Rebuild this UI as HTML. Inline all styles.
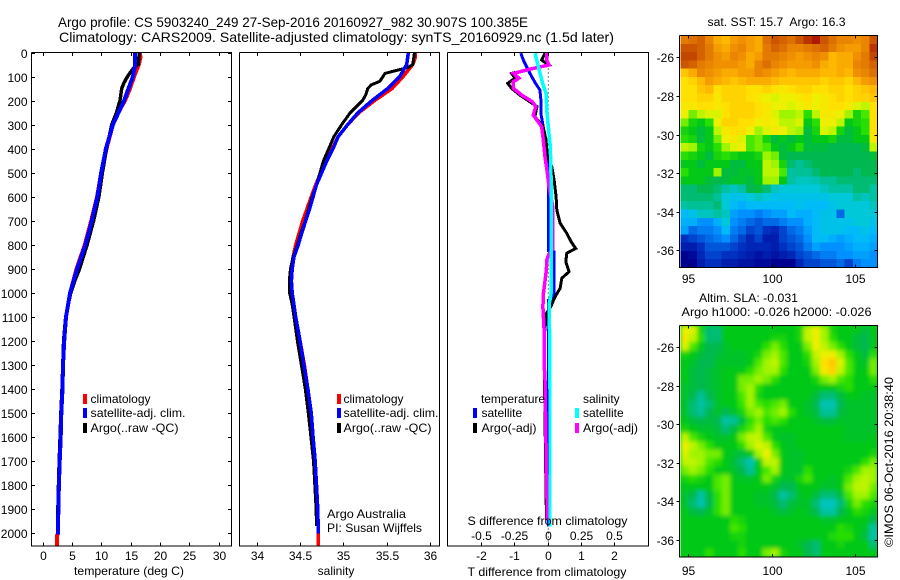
<!DOCTYPE html>
<html><head><meta charset="utf-8"><title>Argo profile</title>
<style>
html,body{margin:0;padding:0;background:#fff}
svg{display:block}
text{font-family:"Liberation Sans",sans-serif;font-size:12px;fill:#000}
</style></head>
<body>
<svg id="fig" xmlns="http://www.w3.org/2000/svg" width="900" height="580" viewBox="0 0 900 580">
<defs>
<filter id="slaBlur" x="-10%" y="-10%" width="120%" height="120%"><feGaussianBlur stdDeviation="2"/></filter>
<clipPath id="slaClip"><rect x="680.5" y="325.5" width="197" height="231.5"/></clipPath>
</defs>
<rect width="900" height="580" fill="#fff"/>
<text x="58" y="27" style="font-size:14px" textLength="470" lengthAdjust="spacingAndGlyphs">Argo profile: CS 5903240_249 27-Sep-2016 20160927_982 30.907S 100.385E</text>
<text x="59" y="42" style="font-size:14px" textLength="555" lengthAdjust="spacingAndGlyphs">Climatology: CARS2009. Satellite-adjusted climatology: synTS_20160929.nc (1.5d later)</text>
<g id="heatLayer">
  <g id="sstLayer"></g>
  <g clip-path="url(#slaClip)">
    <rect x="680.5" y="325.5" width="197" height="231.5" fill="#04c818"/>
    <g id="slaLayer" filter="url(#slaBlur)"></g>
  </g>
</g>
<g id="seriesLayer"></g>
<g id="axisLayer"></g>

<text x="129" y="575" text-anchor="middle" textLength="110" lengthAdjust="spacingAndGlyphs">temperature (deg C)</text>
<text x="336" y="575" text-anchor="middle">salinity</text>
<text x="547" y="576" text-anchor="middle" textLength="159" lengthAdjust="spacingAndGlyphs">T difference from climatology</text>
<text x="547.5" y="525" text-anchor="middle" textLength="160" lengthAdjust="spacingAndGlyphs">S difference from climatology</text>

<g shape-rendering="crispEdges">
<rect x="83" y="394" width="4" height="10" fill="#f00"/>
<rect x="83" y="408" width="4" height="10" fill="#00f"/>
<rect x="83" y="423" width="4" height="10" fill="#000"/>
</g>
<text x="90.5" y="403">climatology</text>
<text x="90.5" y="417" textLength="95" lengthAdjust="spacingAndGlyphs">satellite-adj. clim.</text>
<text x="90.5" y="432" textLength="88" lengthAdjust="spacingAndGlyphs">Argo(..raw -QC)</text>

<g shape-rendering="crispEdges">
<rect x="337" y="394" width="4" height="10" fill="#f00"/>
<rect x="337" y="408" width="4" height="10" fill="#00f"/>
<rect x="337" y="423" width="4" height="10" fill="#000"/>
</g>
<text x="343.5" y="403">climatology</text>
<text x="343.5" y="417" textLength="95" lengthAdjust="spacingAndGlyphs">satellite-adj. clim.</text>
<text x="343.5" y="432" textLength="88" lengthAdjust="spacingAndGlyphs">Argo(..raw -QC)</text>
<text x="327" y="518" textLength="79" lengthAdjust="spacingAndGlyphs">Argo Australia</text>
<text x="327" y="532" textLength="95" lengthAdjust="spacingAndGlyphs">PI: Susan Wijffels</text>

<g shape-rendering="crispEdges">
<rect x="473" y="408" width="4" height="10" fill="#00f"/>
<rect x="473" y="423" width="4" height="10" fill="#000"/>
<rect x="575" y="408" width="4" height="10" fill="#0ff"/>
<rect x="575" y="423" width="4" height="10" fill="#f0f"/>
</g>
<text x="481" y="403" textLength="64" lengthAdjust="spacingAndGlyphs">temperature</text>
<text x="481.5" y="417">satellite</text>
<text x="481.5" y="432" textLength="55" lengthAdjust="spacingAndGlyphs">Argo(-adj)</text>
<text x="583" y="403">salinity</text>
<text x="583" y="417">satellite</text>
<text x="583" y="432" textLength="55" lengthAdjust="spacingAndGlyphs">Argo(-adj)</text>

<text x="707.5" y="26" style="font-size:11.5px" textLength="138" lengthAdjust="spacingAndGlyphs" xml:space="preserve">sat. SST: 15.7  Argo: 16.3</text>
<text x="699" y="302" textLength="99" lengthAdjust="spacingAndGlyphs">Altim. SLA: -0.031</text>
<text x="681.5" y="316" textLength="190" lengthAdjust="spacingAndGlyphs">Argo h1000: -0.026 h2000: -0.026</text>
<text transform="translate(893,547) rotate(-90)" textLength="170" lengthAdjust="spacingAndGlyphs">©IMOS 06-Oct-2016 20:38:40</text>
</svg>

<script>
// ---------- profile data (depth in m) ----------
const tempTicks = [0, 5, 10, 15, 20, 25, 30];
const salTicks = [34, 34.5, 35, 35.5, 36];
const salTickLabels = ["34", "34.5", "35", "35.5", "36"];
const depthTicks = [0, 100, 200, 300, 400, 500, 600, 700, 800, 900, 1000, 1100, 1200, 1300, 1400, 1500, 1600, 1700, 1800, 1900, 2000];
const tDiffTicks = [-2, -1, 0, 1, 2];
const sDiffLabels = ["-0.5", "-0.25", "0", "0.25", "0.5"];
const lonTicks = [95, 100, 105];
const latTicks = [-26, -28, -30, -32, -34, -36];

const climDepth = [0, 20, 50, 100, 150, 200, 250, 300, 400, 500, 600, 700, 800, 900, 1000, 1100, 1200, 1300, 1400, 1500, 1600, 1700, 1800, 1900, 2000, 2010, 2050];
const climTemp = [16.6, 16.7, 16.4, 15.6, 14.9, 14.05, 12.9, 12, 10.9, 10, 9.3, 8.3, 7.2, 5.8, 4.7, 4, 3.7, 3.5, 3.4, 3.2, 3.1, 2.93, 2.8, 2.7, 2.65, 2.47, 2.47];
const satDepth = [0, 50, 100, 200, 300, 400, 500, 600, 700, 800, 900, 1000, 1100, 1200, 1300, 1400, 1500, 1600, 1700, 1800, 1900, 2005];
const satTemp = [15.8, 15.8, 15.4, 13.9, 12, 10.8, 10, 9.35, 8.4, 7.3, 5.9, 4.7, 4, 3.7, 3.5, 3.4, 3.2, 3.1, 2.93, 2.8, 2.7, 2.65];
const argoDepth = [0, 50, 62, 85, 100, 125, 150, 200, 250, 300, 400, 500, 600, 700, 800, 900, 950, 1000, 1100, 1200, 1400, 1500, 1600, 1700, 1800, 1900, 1970];
const argoTemp = [16.5, 16.3, 15.6, 14.9, 14.5, 13.9, 13.5, 13.2, 12.6, 11.8, 10.9, 10.2, 9.6, 8.7, 7.6, 6.3, 5.5, 4.8, 3.95, 3.6, 3.33, 3.13, 3.0, 2.85, 2.72, 2.62, 2.6];

const climSalDepth = [0, 20, 50, 100, 150, 200, 250, 300, 350, 400, 450, 500, 550, 600, 650, 700, 750, 800, 850, 900, 950, 1000, 1050, 1100, 1200, 1300, 1400, 1500, 1600, 1700, 1800, 1900, 2000, 2050];
const climSal = [35.83, 35.83, 35.8, 35.69, 35.56, 35.36, 35.18, 35.05, 34.94, 34.87, 34.8, 34.74, 34.68, 34.63, 34.58, 34.53, 34.49, 34.45, 34.42, 34.4, 34.4, 34.41, 34.43, 34.45, 34.5, 34.55, 34.59, 34.63, 34.65, 34.67, 34.69, 34.705, 34.71, 34.71];
const satSalDepth = [0, 50, 100, 150, 200, 250, 300, 350, 400, 450, 500, 550, 600, 650, 700, 750, 800, 850, 900, 950, 1000, 1050, 1100, 1200, 1300, 1400, 1500, 1600, 1700, 1800, 1900, 2000];
const satSal = [35.75, 35.73, 35.65, 35.51, 35.33, 35.17, 35.05, 34.94, 34.88, 34.81, 34.75, 34.69, 34.65, 34.61, 34.565, 34.52, 34.48, 34.43, 34.41, 34.4, 34.41, 34.43, 34.45, 34.5, 34.545, 34.59, 34.63, 34.65, 34.675, 34.69, 34.705, 34.71];
const argoSalDepth = [0, 50, 62, 87, 120, 135, 150, 175, 200, 250, 300, 350, 400, 450, 500, 550, 600, 650, 700, 750, 800, 850, 900, 950, 1000, 1050, 1100, 1200, 1300, 1400, 1500, 1600, 1700, 1800, 1900, 1970];
const argoSal = [35.82, 35.8, 35.75, 35.48, 35.42, 35.32, 35.28, 35.26, 35.22, 35.08, 34.98, 34.89, 34.83, 34.77, 34.73, 34.69, 34.64, 34.6, 34.56, 34.51, 34.47, 34.42, 34.39, 34.376, 34.38, 34.41, 34.43, 34.47, 34.515, 34.56, 34.595, 34.625, 34.655, 34.67, 34.685, 34.69];

const diffTSatDepth = [3, 31, 73, 100, 128, 156, 198, 253, 309, 364, 433, 502, 825, 830, 1020, 1030, 1400, 1972];
const diffTSat = [-0.8, -0.73, -0.58, -0.48, -0.36, -0.23, -0.2, -0.2, -0.13, -0.075, 0, 0.03, 0.03, 0.2, 0.2, 0.03, 0.03, 0.03];
const diffTArgoDepth = [3, 31, 52, 66, 87, 107, 128, 149, 177, 205, 225, 267, 309, 364, 433, 475, 530, 600, 655, 710, 752, 787, 815, 835, 870, 912, 939, 981, 1016, 1057, 1085, 1168, 1307, 1362, 1764, 1945];
const diffTArgo = [-0.075, -0.175, 0.03, -0.43, -1.08, -0.98, -1.2, -1.08, -0.83, -0.53, -0.32, -0.38, -0.13, -0.045, 0, 0.13, 0.2, 0.26, 0.28, 0.38, 0.58, 0.71, 0.85, 0.58, 0.55, 0.65, 0.43, 0.38, 0.23, 0.1, -0.03, -0.09, -0.1, -0.09, -0.05, -0.03];
const diffSSatDepth = [3, 57, 100, 128, 170, 253, 309, 392, 503, 700, 1000, 1040, 1100, 1400, 1972];
const diffSSat = [-0.094, -0.07, -0.05, -0.037, -0.011, -0.004, 0.006, 0.021, 0.026, 0.028, 0.028, 0.015, 0.014, 0.019, 0.019];
const diffSArgoDepth = [3, 31, 52, 66, 87, 107, 121, 149, 177, 205, 225, 260, 309, 364, 433, 503, 558, 641, 820, 840, 860, 912, 1000, 1057, 1168, 1307, 1362, 1778, 1945];
const diffSArgo = [-0.006, -0.006, 0.011, -0.107, -0.257, -0.215, -0.257, -0.257, -0.194, -0.114, -0.089, -0.107, -0.044, -0.032, -0.019, -0.001, 0.011, 0.039, 0.039, 0.01, -0.004, -0.01, -0.03, -0.035, -0.024, -0.024, -0.019, -0.007, 0];

// ---------- map data: colour index per cell, north to south, west to east ----------
const sstGrid = [
[86,88,90,84,78,76,80,82,80,78,88,92,90,88,92,96,98,92,88,84,84,82,84,92],
[92,92,90,86,80,78,82,84,80,78,86,90,88,84,84,86,88,90,86,82,80,80,84,96],
[94,94,90,86,82,80,84,82,78,80,86,86,84,82,80,82,84,82,76,78,78,82,86,94],
[92,90,86,84,82,82,82,80,78,84,88,84,82,80,80,80,82,78,76,78,78,84,86,90],
[74,78,84,82,80,78,78,80,80,84,82,80,78,76,78,78,78,76,76,78,76,82,84,88],
[70,72,76,80,78,76,74,76,78,78,78,76,74,74,74,74,74,72,74,74,72,76,80,82],
[70,70,74,76,70,72,72,72,70,70,72,70,68,70,72,72,70,70,72,72,70,72,74,76],
[70,70,72,72,68,72,72,72,70,68,66,64,66,66,68,70,66,68,70,72,70,72,72,74],
[68,68,70,70,68,70,72,72,72,70,68,66,66,64,66,68,66,68,70,70,68,64,62,70],
[66,58,62,64,64,70,72,72,72,70,68,64,60,60,62,54,62,68,68,66,60,52,56,70],
[58,52,50,54,66,72,72,70,70,66,68,66,62,62,64,50,54,66,66,62,50,52,54,70],
[52,50,48,50,62,68,70,70,66,60,64,68,66,62,60,48,52,64,62,52,48,50,54,70],
[54,52,48,50,58,66,68,64,56,58,52,48,50,48,50,48,50,50,52,48,48,50,50,68],
[62,60,52,50,54,60,64,66,56,58,56,50,48,50,54,48,48,48,47,47,47,47,48,62],
[54,52,50,48,52,54,52,50,50,52,60,58,48,47,47,47,47,47,47,47,47,47,47,48],
[50,50,48,50,50,50,48,48,50,50,62,60,52,46,45,46,47,47,47,47,47,47,47,47],
[54,50,50,50,60,48,48,49,49,50,62,62,56,44,45,45,46,47,47,47,47,46,47,47],
[50,50,50,48,47,48,49,49,48,50,60,60,50,44,42,42,43,45,45,46,46,46,46,46],
[46,46,47,47,46,44,42,44,47,48,46,42,40,40,40,40,40,42,44,44,44,46,46,44],
[46,46,46,46,45,40,38,38,40,42,40,38,38,38,38,38,38,38,40,40,40,44,42,44],
[44,45,45,45,46,40,36,34,36,36,36,36,36,36,38,36,36,36,38,40,40,40,40,42],
[36,38,42,42,44,42,32,30,30,28,30,32,32,36,34,34,36,38,38,26,40,40,40,40],
[34,34,30,30,34,40,30,28,26,24,26,26,28,30,30,34,36,38,38,38,38,40,40,38],
[32,26,28,28,30,36,28,26,22,24,20,18,22,26,28,32,36,38,38,38,36,36,38,36],
[20,22,24,26,28,30,26,22,18,22,16,16,22,24,26,30,36,36,34,32,34,36,36,34],
[16,16,20,24,24,24,22,20,18,18,18,16,20,22,24,28,32,30,30,30,32,34,34,32],
[10,12,18,22,22,20,20,18,16,14,16,14,16,18,22,24,26,28,28,30,30,32,32,30],
[8,10,16,20,20,16,16,14,14,12,12,10,10,10,18,22,22,24,24,26,22,28,30,30]
];
const slaGrid = [
[66,64,52,46,46,50,50,50,50,50,50,50,50,50,52,62,66,60,52,50,50,50,48,50],
[68,62,54,46,46,50,50,50,50,50,50,52,52,50,52,62,66,60,54,50,50,48,47,50],
[64,56,50,47,47,49,50,50,50,50,54,58,54,50,50,58,66,62,58,54,50,48,47,50],
[52,50,48,47,48,49,49,49,50,52,58,60,56,50,50,54,62,66,66,60,54,50,48,54],
[50,49,47,47,49,49,49,49,50,56,60,62,56,50,50,52,60,70,74,64,56,50,49,58],
[50,48,47,48,49,50,50,50,54,58,60,60,54,50,50,50,58,68,72,62,56,50,50,58],
[50,48,47,48,49,50,50,58,58,60,58,54,50,50,50,50,52,58,60,56,54,50,50,54],
[49,48,47,48,49,50,50,58,60,54,50,50,50,50,50,50,50,50,50,52,54,50,50,50],
[49,47,45,47,49,50,50,56,60,52,50,50,50,50,50,50,48,46,46,48,50,50,49,49],
[49,46,44,46,49,50,50,55,60,56,54,56,58,50,50,49,47,43,43,47,49,49,49,49],
[49,46,45,47,49,47,49,52,58,60,56,58,60,54,50,49,48,45,45,48,49,49,49,49],
[50,48,47,48,47,44,45,48,54,58,54,56,54,50,50,50,49,48,48,49,49,49,49,49],
[52,50,49,49,48,46,48,52,56,60,52,50,50,50,50,50,50,50,50,50,49,49,49,49],
[62,56,52,50,49,49,50,58,62,62,56,50,49,49,50,50,50,50,50,50,49,49,49,50],
[66,62,58,54,50,50,50,54,60,64,62,54,50,49,50,50,50,50,50,50,50,50,50,50],
[64,60,60,58,58,50,49,48,50,60,66,58,50,49,49,50,50,50,50,50,50,50,50,52],
[62,62,60,56,54,50,48,46,43,50,62,62,50,49,49,50,50,50,50,50,50,50,54,58],
[58,60,58,54,50,50,49,47,45,50,56,60,50,49,49,54,50,50,50,50,52,56,60,60],
[52,54,52,50,56,58,50,49,49,50,58,52,49,49,52,56,50,50,49,50,56,60,62,60],
[50,50,50,50,56,58,50,50,50,50,50,49,47,47,50,50,50,49,49,50,58,62,62,58],
[49,47,44,48,54,58,50,50,50,49,49,47,44,46,49,50,48,46,46,48,56,60,60,56],
[49,46,43,47,54,58,50,50,50,49,49,48,46,48,49,49,46,42,42,46,52,58,54,52],
[50,48,47,49,54,58,50,50,50,50,50,49,48,49,50,49,47,44,44,47,50,54,52,50],
[50,50,50,50,50,50,54,52,50,50,50,50,50,50,50,50,50,49,49,50,50,50,50,47],
[50,50,50,50,50,50,56,54,50,50,50,50,50,50,50,50,50,50,50,54,52,50,49,44],
[50,50,50,50,50,50,52,52,50,50,50,50,50,50,50,50,50,50,53,54,54,50,48,43],
[50,50,50,50,50,50,50,52,50,50,50,50,50,50,49,47,46,50,50,52,50,50,50,46],
[50,50,50,54,50,50,50,54,50,50,58,60,52,50,50,47,46,50,50,50,50,50,50,50]
];
const colorIndex = [0, 10, 20, 30, 35, 40, 45, 47, 50, 55, 60, 65, 70, 76, 82, 88, 95, 100];
const colorRGB = [[0,0,128],[0,0,144],[0,48,192],[0,144,255],[0,184,255],[0,200,216],[0,192,150],[0,184,80],[4,200,24],[48,228,0],[160,244,0],[232,244,0],[255,224,0],[255,184,0],[240,144,0],[220,112,0],[192,64,0],[160,0,0]];

// ---------- scales ----------
const depthY = d => 52.5 + d * 0.2404;
const tempX = t => 42.5 + t * 5.87;
const salX = s => 256.7 + (s - 34) * 86.7;
const diffTX = t => 547.5 + t * 33.2;
const diffSX = s => 547.5 + s * 132.8;
const lonX = l => 688.3 + (l - 95) * 16.64;
const latYTop = l => 57.3 + (-26 - l) * 19.3;
const latYBot = l => 347.3 + (-26 - l) * 19.27;

const NS = "http://www.w3.org/2000/svg";
const seriesLayer = document.getElementById("seriesLayer");
const axisLayer = document.getElementById("axisLayer");
const sstLayer = document.getElementById("sstLayer");
const slaLayer = document.getElementById("slaLayer");

function mk(parent, tag, attrs, txt) {
  const el = document.createElementNS(NS, tag);
  for (const k in attrs) el.setAttribute(k, attrs[k]);
  if (txt !== undefined) el.textContent = txt;
  parent.appendChild(el);
  return el;
}

function drawLine(depths, vals, xFn, color, name, w) {
  const pts = depths.map((d, i) => xFn(vals[i]).toFixed(1) + "," + depthY(d).toFixed(1)).join(" ");
  const el = mk(seriesLayer, "polyline", {points: pts, fill: "none", stroke: color, "stroke-width": w, "shape-rendering": "crispEdges", "stroke-linejoin": "miter"});
  
  
}

function drawBox(l, r, t, b, name) {
  const el = mk(axisLayer, "path", {d: "M" + l + " " + t + "H" + r + "V" + b + "H" + l + "V" + t, fill: "none", stroke: "#000", "stroke-width": 1.3, "shape-rendering": "crispEdges"});
  
  
}

function drawTick(x1, y1, x2, y2) {
  const el = mk(axisLayer, "line", {x1: x1, y1: y1, x2: x2, y2: y2, stroke: "#000", "stroke-width": 1, "shape-rendering": "crispEdges"});
  
  
}

function drawLabel(x, y, str, anchor) {
  const el = mk(axisLayer, "text", {x: x, y: y, "text-anchor": anchor}, str);
  
  
}

function colorFor(v) {
  let i = 0;
  while (i < colorIndex.length - 2 && v > colorIndex[i + 1]) i++;
  const f = Math.min(1, Math.max(0, (v - colorIndex[i]) / (colorIndex[i + 1] - colorIndex[i])));
  const a = colorRGB[i], b = colorRGB[i + 1];
  return "rgb(" + [0, 1, 2].map(k => Math.round(a[k] + (b[k] - a[k]) * f)).join(",") + ")";
}

function drawHeat(layer, grid, l, r, t, b, name) {
  const rows = grid.length, cols = grid[0].length;
  const cw = (r - l) / cols, ch = (b - t) / rows;
  grid.forEach((row, j) => row.forEach((v, i) => {
    const el = mk(layer, "rect", {x: (l + i * cw).toFixed(2), y: (t + j * ch).toFixed(2), width: (cw + 0.6).toFixed(2), height: (ch + 0.6).toFixed(2), fill: colorFor(v), "shape-rendering": "crispEdges"});
    
    
  }));
}

// ---------- heatmaps ----------
drawHeat(sstLayer, sstGrid, 680.5, 877.5, 35.5, 267.5, "sst-cell");
drawHeat(slaLayer, slaGrid, 680.5, 877.5, 325.5, 557, "sla-cell");

// ---------- temperature panel ----------
drawLine(climDepth, climTemp, tempX, "#f00", "temperature-climatology-line", 4);
drawLine(argoDepth, argoTemp, tempX, "#000", "temperature-argo-line", 3.5);
drawLine(satDepth, satTemp, tempX, "#00f", "temperature-satellite-line", 4);

// ---------- salinity panel ----------
drawLine(climSalDepth, climSal, salX, "#f00", "salinity-climatology-line", 3.5);
drawLine(argoSalDepth, argoSal, salX, "#000", "salinity-argo-line", 3);
drawLine(satSalDepth, satSal, salX, "#00f", "salinity-satellite-line", 3.5);

// ---------- difference panel ----------
const zeroLine = mk(seriesLayer, "line", {x1: diffTX(0) + 0.8, y1: depthY(0), x2: diffTX(0) + 0.8, y2: depthY(2050), stroke: "#000", "stroke-width": 1, "stroke-dasharray": "1 3"});


drawLine(diffTSatDepth, diffTSat, diffTX, "#00f", "t-difference-satellite-line", 3);
drawLine(diffTArgoDepth, diffTArgo, diffTX, "#000", "t-difference-argo-line", 3);
drawLine(diffSArgoDepth, diffSArgo, diffSX, "#f0f", "s-difference-argo-line", 3.5);
drawLine(diffSSatDepth, diffSSat, diffSX, "#0ff", "s-difference-satellite-line", 3.5);

// ---------- axes ----------
const TOP = 52.5, BOT = 546;
drawBox(31.5, 231.5, TOP, BOT, "temperature-panel-frame");
drawBox(239.5, 439.5, TOP, BOT, "salinity-panel-frame");
drawBox(447.5, 648.5, TOP, BOT, "difference-panel-frame");
drawBox(679.5, 877.5, 35.5, 267.5, "sst-map-frame");
drawBox(679.5, 877.5, 325.5, 557, "sla-map-frame");

depthTicks.forEach(d => {
  const y = Math.round(depthY(d)) + 0.5;
  drawTick(31.5, y, 35, y);
  drawTick(228, y, 231.5, y);
  drawLabel(27.5, y + 4.3, String(d), "end");
});
tempTicks.forEach(t => {
  const x = Math.round(tempX(t)) + 0.5;
  drawTick(x, TOP, x, TOP + 3.5);
  drawTick(x, BOT, x, BOT - 3.5);
  drawLabel(x, 560, String(t), "middle");
});
salTicks.forEach((s, i) => {
  const x = Math.round(salX(s)) + 0.5;
  drawTick(x, TOP, x, TOP + 3.5);
  drawTick(x, BOT, x, BOT - 3.5);
  drawLabel(x, 560, salTickLabels[i], "middle");
});
tDiffTicks.forEach((t, i) => {
  const x = Math.round(diffTX(t)) + 0.5;
  drawTick(x, TOP, x, TOP + 3.5);
  drawTick(x, BOT, x, BOT - 3.5);
  drawLabel(x, 560, String(t), "middle");
  drawLabel(x, 540, sDiffLabels[i], "middle");
});
lonTicks.forEach(l => {
  const x = Math.round(lonX(l)) + 0.5;
  drawTick(x, 35.5, x, 38.5);
  drawTick(x, 267.5, x, 264.5);
  drawLabel(x, 283, String(l), "middle");
  drawTick(x, 325.5, x, 328.5);
  drawTick(x, 557, x, 554);
  drawLabel(x, 575, String(l), "middle");
});
latTicks.forEach(l => {
  const y1 = Math.round(latYTop(l)) + 0.5;
  drawTick(679.5, y1, 676.5, y1);
  drawTick(877.5, y1, 874.5, y1);
  drawLabel(674, y1 + 4.3, String(l), "end");
  const y2 = Math.round(latYBot(l)) + 0.5;
  drawTick(679.5, y2, 676.5, y2);
  drawTick(877.5, y2, 874.5, y2);
  drawLabel(674, y2 + 4.3, String(l), "end");
});
</script>
</body></html>
